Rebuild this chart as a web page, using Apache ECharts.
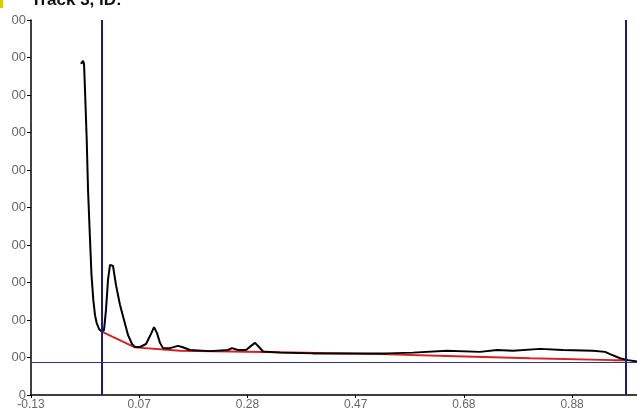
<!DOCTYPE html>
<html>
<head>
<meta charset="utf-8">
<script src="https://cdn.jsdelivr.net/npm/echarts@6/dist/echarts.min.js"></script>
<style>html,body{margin:0;padding:0;background:#fff}#c{width:637px;height:411px}</style>
</head>
<body>
<div id="c"></div>
<script>
const titleText = 'Track 3, ID:';
const xTickLabels = ['-0.13', '0.07', '0.28', '0.47', '0.68', '0.88'];
const yTickLabels = ['0', '00', '00', '00', '00', '00', '00', '00', '00', '00', '00'];
const profileX = [-0.0376,-0.0339,-0.032,-0.0302,-0.027,-0.0246,-0.0209,-0.0182,-0.0148,-0.0117,-0.0086,-0.0043,0.0007,0.0049,0.0086,0.0123,0.016,0.0192,0.0216,0.0271,0.0345,0.0419,0.0493,0.0567,0.0622,0.0715,0.0826,0.0918,0.0974,0.1029,0.1084,0.114,0.1269,0.1417,0.1491,0.1639,0.2009,0.2341,0.2415,0.2526,0.2674,0.2767,0.284,0.2914,0.2988,0.3303,0.3913,0.4597,0.528,0.5761,0.6389,0.70,0.7314,0.761,0.8109,0.8534,0.9088,0.931,0.9402,0.9587,0.9735,0.9901];
const profileY = [883,891,883,813,680,547,413,320,253,213,192,176,169,173,227,307,347,351,344,293,240,200,160,136,128,128,136,163,181,165,139,125,125,131,128,120,117,120,125,120,120,131,139,128,116,113,111,111,111,113,118,115,120,118,123,120,118,115,109,98,93,89];
const baselineX = [0.0007,0.0622,0.1454,0.3303,0.5151,0.6389,0.7924,0.9458,0.9735];
const baselineY = [169,127,118,114,109,104,98,93,93];
const startLineX = 0.0012;
const frontLineX = 0.9735;
const thresholdY = 88;

const zip = (a, b) => a.map((v, i) => [v, b[i]]);
const chart = echarts.init(document.getElementById('c'), null, {renderer: 'canvas'});
chart.setOption({
  animation: false,
  backgroundColor: '#fff',
  title: {text: titleText, left: 26, top: -13, textStyle: {fontSize: 17, fontWeight: 'bold', color: '#111', fontFamily: 'Liberation Sans'}},
  graphic: [{type: 'rect', left: 0, top: 0, shape: {width: 3, height: 8}, style: {fill: '#d8cc10'}}],
  grid: {left: 31, right: 0, top: 20, bottom: 16},
  xAxis: {
    type: 'value', min: -0.13, max: 0.99, interval: 0.2,
    axisLine: {onZero: false, lineStyle: {color: '#000', width: 1.5}},
    axisTick: {show: true, length: 3, lineStyle: {color: '#000'}},
    splitLine: {show: false},
    axisLabel: {
      color: '#666', fontSize: 12, margin: 4, fontFamily: 'Liberation Sans', showMaxLabel: false,
      formatter: v => { const i = Math.round((v + 0.13) / 0.2); return xTickLabels[i] !== undefined ? xTickLabels[i] : ''; }
    }
  },
  yAxis: {
    type: 'value', min: 0, max: 1000, interval: 100,
    axisLine: {show: true, onZero: false, lineStyle: {color: '#000', width: 1.5}},
    axisTick: {show: true, length: 4, lineStyle: {color: '#000'}},
    splitLine: {show: false},
    axisLabel: {
      color: '#666', fontSize: 13, margin: 5, fontFamily: 'Liberation Sans',
      formatter: v => { const i = Math.round(v / 100); return yTickLabels[i] !== undefined ? yTickLabels[i] : ''; }
    }
  },
  series: [
    {
      type: 'line', data: zip(baselineX, baselineY), showSymbol: false,
      lineStyle: {color: '#d42020', width: 2}, z: 3
    },
    {
      type: 'line', data: zip(profileX, profileY), showSymbol: false,
      lineStyle: {color: '#000', width: 2}, z: 4,
      markLine: {
        silent: true, symbol: 'none', label: {show: false},
        lineStyle: {color: '#1c1c7a', width: 2, type: 'solid'},
        data: [{xAxis: startLineX}, {xAxis: frontLineX}, {yAxis: thresholdY, lineStyle: {width: 1, color: '#33338a'}}]
      }
    }
  ]
});
</script>
</body>
</html>
